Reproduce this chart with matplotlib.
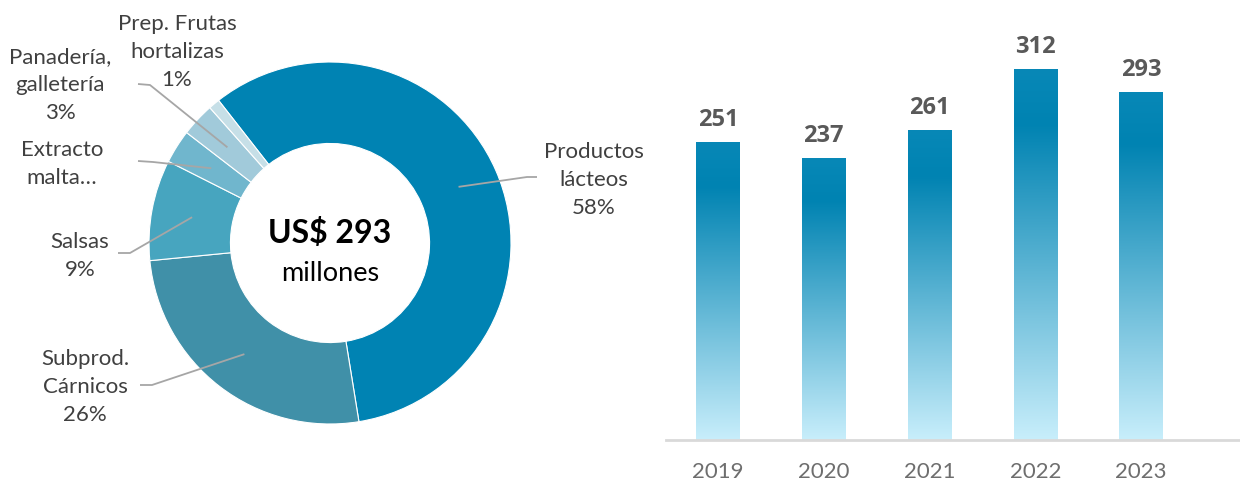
import numpy as np
import matplotlib
matplotlib.use("Agg")
import matplotlib.pyplot as plt
from matplotlib.colors import LinearSegmentedColormap

# ---------------- data ----------------
pie_labels = ["Productos\nlácteos\n58%", "Subprod.\nCárnicos\n26%", "Salsas\n9%",
              "Extracto\nmalta…", "Panadería,\ngalletería\n3%", "Prep. Frutas\nhortalizas\n1%"]
pie_values = [58, 26, 9, 3, 3, 1]
pie_colors = ["#0083B3", "#4090A8", "#47A5BF", "#70B6CD", "#A1CADA", "#C6DFE7"]
center_title = "US$ 293"
center_sub = "millones"

years = ["2019", "2020", "2021", "2022", "2023"]
totals = [251, 237, 261, 312, 293]

W, H = 1240, 480
fig = plt.figure(figsize=(W / 100, H / 100), dpi=100)

# ---------------- donut ----------------
CX, CY, R = 330, 243, 181
axp = fig.add_axes([0, 0, 660 / W, 1])
wedges, _ = axp.pie(pie_values, colors=pie_colors, startangle=128, counterclock=False,
                    radius=1, wedgeprops=dict(width=0.45, edgecolor="white", linewidth=0.8))
axp.set_aspect("auto")
axp.set_xlim(-CX / R, (660 - CX) / R)
axp.set_ylim((CY - H) / R, CY / R)
axp.axis("off")


def px(x, y):
    return (x - CX) / R, (CY - y) / R


txt_color = "#404040"
lab_font = "Lato"
# label centre positions (pixels), elbow and end of leader lines
label_pos = [(594, 180), (85, 387), (80, 256), (62, 164), (60, 85), (177, 52)]
elbows = [((527, 177), (537, 177)), ((152, 385), (140, 385)), ((130, 253), (118, 253)),
          ((153, 162), (138, 161)), ((150, 85), (138, 84)), None]

for w, lab, pos, el in zip(wedges, pie_labels, label_pos, elbows):
    mid = np.deg2rad((w.theta1 + w.theta2) / 2)
    tx, ty = px(*pos)
    axp.text(tx, ty, lab, ha="center", va="center", fontsize=16, color=txt_color,
             family=lab_font, linespacing=1.52)
    if el is not None:
        ix, iy = 0.775 * np.cos(mid), 0.775 * np.sin(mid)
        (ex, ey), (fx, fy) = px(*el[0]), px(*el[1])
        axp.plot([ix, ex, fx], [iy, ey, fy], color="#A6A6A6", lw=1.3, solid_capstyle="butt")

x, y = px(330, 243)
axp.text(x, y, center_title, ha="center", va="baseline", fontsize=23, fontweight="bold",
         color="black", family=lab_font)
x, y = px(330, 281)
axp.text(x, y, center_sub, ha="center", va="baseline", fontsize=19.5, color="black",
         family=lab_font)

# ---------------- bars ----------------
axb = fig.add_axes([666 / W, 40 / H, (W - 666) / W, 420 / H])
xs = np.arange(len(years))
bars = axb.bar(xs, totals, width=0.41, color="none", edgecolor="none")
cmap = LinearSegmentedColormap.from_list(
    "g", [(0.0, "#0888B7"), (0.15, "#0083B2"), (1.0, "#C8EEFB")])
grad = np.linspace(0, 1, 256).reshape(-1, 1)
for b in bars:
    x0, w, h = b.get_x(), b.get_width(), b.get_height()
    im = axb.imshow(grad, cmap=cmap, aspect="auto", origin="upper",
                    extent=(x0, x0 + w, 0, h), zorder=2)
    im.set_clip_path(b)
    axb.annotate(f"{h:.0f}", (x0 + w / 2, h), xytext=(0, 11.3), textcoords="offset points",
                 ha="center", va="baseline", fontsize=17, fontweight="bold",
                 color="#595959", family="Open Sans")

axb.set_xlim(-0.4915, 4.934)
axb.set_ylim(0, 353.2)
for s in ["top", "right", "left"]:
    axb.spines[s].set_visible(False)
axb.spines["bottom"].set_color("#D9D9D9")
axb.spines["bottom"].set_linewidth(2)
axb.set_yticks([])
axb.set_xticks(xs)
axb.set_xticklabels(years, fontsize=16, color="#6E6E6E", family="Lato")
axb.tick_params(axis="x", length=0, pad=16)

fig.savefig("out.png", dpi=100)
